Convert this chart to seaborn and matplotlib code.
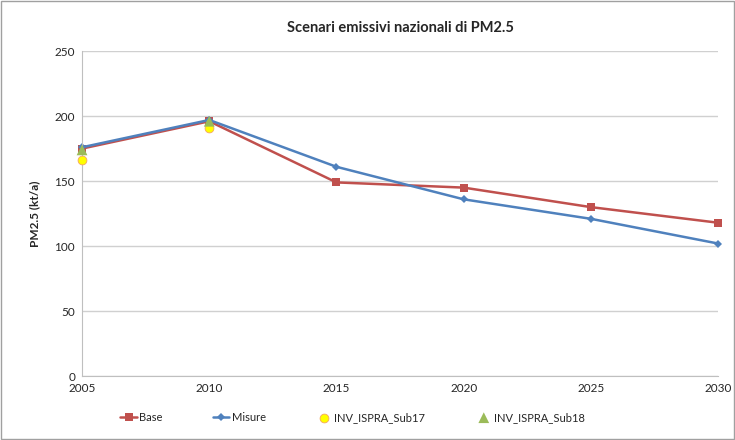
import matplotlib
matplotlib.use('Agg')
import matplotlib.pyplot as plt
import seaborn as sns
import pandas as pd

# --- Data ---
years = [2005, 2010, 2015, 2020, 2025, 2030]
base = [175, 196, 149, 145, 130, 118]
misure = [176, 197, 161, 136, 121, 102]
sub17_years = [2005, 2010]
sub17 = [166, 191]
sub18_years = [2005, 2010]
sub18 = [174, 196]

df_lines = pd.DataFrame({'Anno': years, 'Base': base, 'Misure': misure})

sns.set_style('white')
plt.rcParams['font.family'] = ['Lato', 'DejaVu Sans']

fig = plt.figure(figsize=(7.35, 4.4), dpi=100)
ax = fig.add_axes([0.1116, 0.145, 0.8654, 0.739])

sns.lineplot(data=df_lines, x='Anno', y='Base', ax=ax, color='#C0504D', marker='s',
             markersize=6, markeredgewidth=0, linewidth=1.8, label='Base', clip_on=False)
sns.lineplot(data=df_lines, x='Anno', y='Misure', ax=ax, color='#4F81BD', marker='D',
             markersize=4.5, markeredgewidth=0, linewidth=1.8, label='Misure', clip_on=False)
sns.scatterplot(x=sub17_years, y=sub17, ax=ax, color='#FFFF00', edgecolor='#F4A460',
                linewidth=0.6, s=40, marker='o', label='INV_ISPRA_Sub17', zorder=5, clip_on=False)
sns.scatterplot(x=sub18_years, y=sub18, ax=ax, color='#9BBB59', edgecolor='none',
                s=60, marker='^', label='INV_ISPRA_Sub18', zorder=6, clip_on=False)

ax.set_xlim(2005, 2030)
ax.set_ylim(0, 250)
ax.set_xticks(years)
ax.set_xticklabels([str(y) for y in years])
ax.set_yticks(range(0, 251, 50))
ax.tick_params(axis='both', labelsize=8.5, length=0, pad=5)
ax.yaxis.grid(True, color='#D0D0D0', linewidth=1)
ax.xaxis.grid(False)
for side in ['top', 'right']:
    ax.spines[side].set_visible(False)
ax.spines['left'].set_color('#BFBFBF')
ax.spines['bottom'].set_color('#BFBFBF')

ax.set_xlabel('')
ax.set_ylabel('PM2.5 (kt/a)', fontsize=8.5, fontweight='bold', labelpad=10)
ax.set_title('Scenari emissivi nazionali di PM2.5', fontsize=10.5, fontweight='bold', pad=14)

handles, labels = ax.get_legend_handles_labels()
ax.get_legend().remove()
fig.legend(handles, labels, loc='center', bbox_to_anchor=(0.48, 0.052), ncol=4,
           frameon=False, fontsize=8, columnspacing=4.5, handlelength=1.5, handletextpad=0.2)

# outer light border like the original chart frame
fig.patches.append(plt.Rectangle((0.002, 0.002), 0.996, 0.996, transform=fig.transFigure,
                                 fill=False, edgecolor='#A0A0A0', linewidth=1))

plt.savefig('out.png', dpi=100)
plt.close()
